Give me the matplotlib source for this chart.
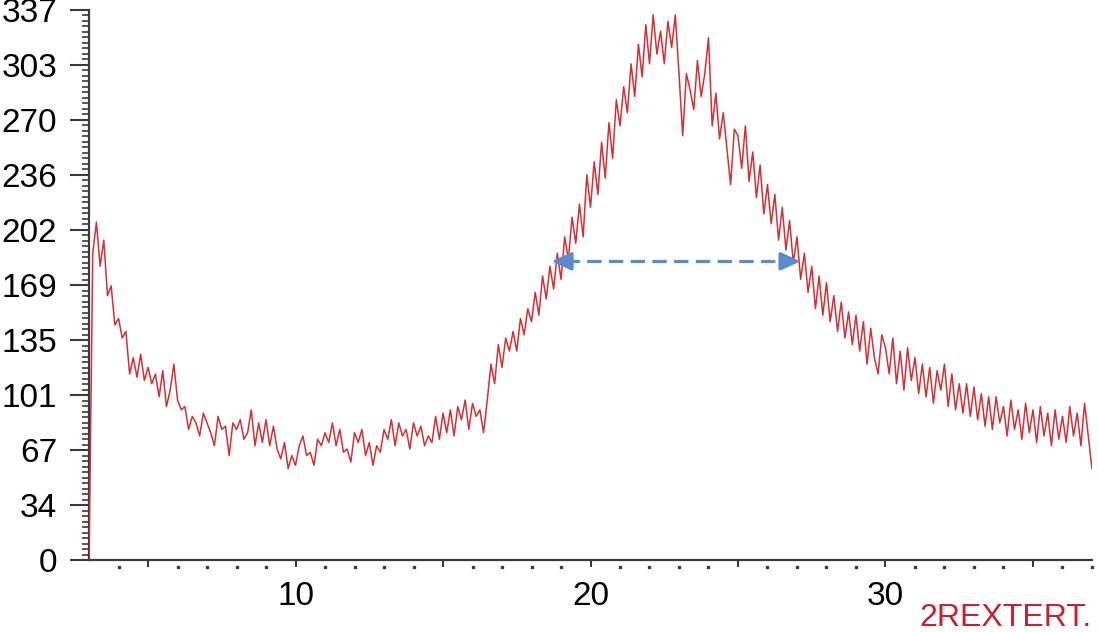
import numpy as np
import matplotlib
matplotlib.use("Agg")
import matplotlib.pyplot as plt
from matplotlib import transforms

plt.rcParams['font.family'] = ['Liberation Sans', 'DejaVu Sans']

# signal, one row per unit of x, step 0.125
x_start, x_step = 3.0, 0.125
signal = [
    0, 188, 207, 180, 196, 162, 168, 144,        # 3
    148, 136, 140, 114, 124, 112, 126, 110,      # 4
    118, 108, 114, 100, 116, 94, 104, 120,       # 5
    98, 92, 94, 80, 88, 84, 76, 90,              # 6
    84, 78, 70, 88, 80, 82, 64, 84,              # 7
    80, 86, 74, 78, 92, 70, 84, 72,              # 8
    86, 70, 82, 68, 62, 72, 56, 64,              # 9
    58, 70, 76, 64, 66, 58, 74, 70,              # 10
    78, 72, 84, 70, 80, 66, 68, 60,              # 11
    78, 72, 80, 64, 72, 58, 70, 66,              # 12
    80, 74, 86, 70, 84, 76, 80, 68,              # 13
    84, 76, 82, 70, 76, 72, 88, 74,              # 14
    90, 78, 92, 76, 94, 86, 98, 80,              # 15
    96, 88, 92, 78, 98, 120, 108, 132,           # 16
    118, 136, 128, 140, 128, 148, 138, 154,      # 17
    146, 164, 150, 174, 160, 180, 166, 188,      # 18
    172, 198, 184, 210, 194, 218, 198, 236,      # 19
    216, 244, 224, 256, 234, 268, 246, 282,      # 20
    266, 290, 274, 304, 284, 316, 296, 328,      # 21
    304, 334, 310, 324, 304, 330, 314, 334,      # 22
    298, 260, 298, 288, 276, 306, 284, 298,      # 23
    320, 266, 286, 258, 274, 252, 230, 264,      # 24
    260, 240, 266, 232, 250, 222, 242, 212,      # 25
    230, 206, 224, 196, 216, 190, 208, 182,      # 26
    198, 172, 188, 164, 180, 154, 174, 150,      # 27
    170, 146, 162, 140, 158, 136, 152, 132,      # 28
    150, 128, 146, 120, 142, 124, 114, 138,      # 29
    130, 114, 136, 108, 128, 104, 130, 110,      # 30
    124, 102, 120, 100, 118, 96, 116, 104,       # 31
    120, 94, 114, 92, 108, 90, 108, 88,          # 32
    106, 86, 102, 82, 100, 80, 100, 84,          # 33
    94, 76, 98, 80, 92, 74, 96, 78,              # 34
    92, 72, 94, 76, 90, 70, 92, 74,              # 35
    88, 72, 94, 76, 90, 70, 96, 76,              # 36
    56,                                          # 37
]

ytick_values = [0, 33.7, 67.4, 101.1, 134.8, 168.5, 202.2, 235.9, 269.6, 303.3, 337]
ytick_labels = ['0', '34', '67', '101', '135', '169', '202', '236', '270', '303', '337']
xtick_major = [5, 10, 15, 20, 25, 30, 35]
xtick_labels = ['', '10', '', '20', '', '30', '']
xtick_minor = [4, 6, 7, 8, 9, 11, 12, 13, 14, 16, 17, 18, 19, 21, 22, 23, 24,
               26, 27, 28, 29, 31, 32, 33, 34, 36, 37]

fwhm_left, fwhm_right, fwhm_level = 18.68, 27.12, 183

red = '#d42f35'
blue = '#5b8bcc'
axis_col = '#3a3a3a'

x = x_start + x_step * np.arange(len(signal))

fig = plt.figure(figsize=(10.98, 6.32), dpi=100)
ax = fig.add_axes([0.0811, 0.1139, 0.9134, 0.8703])

ax.plot(x, signal, color=red, lw=1.1, zorder=3)

# dashed double arrow
head = 0.45
ax.plot([fwhm_left + head, fwhm_right - head], [fwhm_level, fwhm_level],
        color=blue, lw=2.3, dashes=(4.5, 2.3), zorder=4)
for tip, tail in [(fwhm_left, fwhm_left + head), (fwhm_right, fwhm_right - head)]:
    ax.annotate('', xy=(tip, fwhm_level), xytext=(tail, fwhm_level),
                arrowprops=dict(arrowstyle='-|>,head_length=1.2,head_width=0.55',
                                color=blue, lw=2.3, shrinkA=0, shrinkB=0),
                zorder=5)

ax.set_xlim(3, 37)
ax.set_ylim(0, 337)

for s in ['top', 'right']:
    ax.spines[s].set_visible(False)
for s in ['left', 'bottom']:
    ax.spines[s].set_color(axis_col)
    ax.spines[s].set_linewidth(1.6)

ax.set_yticks(ytick_values)
ax.set_yticklabels(ytick_labels)
ax.set_yticks(np.linspace(0, 337, 101), minor=True)
ax.tick_params(axis='y', which='major', length=14, width=1.5, color=axis_col,
               labelsize=24, pad=9)
ax.tick_params(axis='y', which='minor', length=5, width=1.2, color=axis_col)

ax.set_xticks(xtick_major)
ax.set_xticklabels(xtick_labels)
ax.tick_params(axis='x', which='major', length=5, width=1.5, color=axis_col,
               labelsize=24, pad=10)

# little dots under the axis at every unit
dot_tr = transforms.offset_copy(ax.get_xaxis_transform(), fig=fig, x=0, y=-5, units='points')
ax.plot(xtick_minor, [0] * len(xtick_minor), linestyle='none', marker='s',
        markersize=2, color=axis_col, transform=dot_tr, clip_on=False)

fig.text(0.9945, 0.009, '2REXTERT.', color='#c8202f', fontsize=23,
         ha='right', va='baseline')

fig.savefig('out.png', dpi=100)
